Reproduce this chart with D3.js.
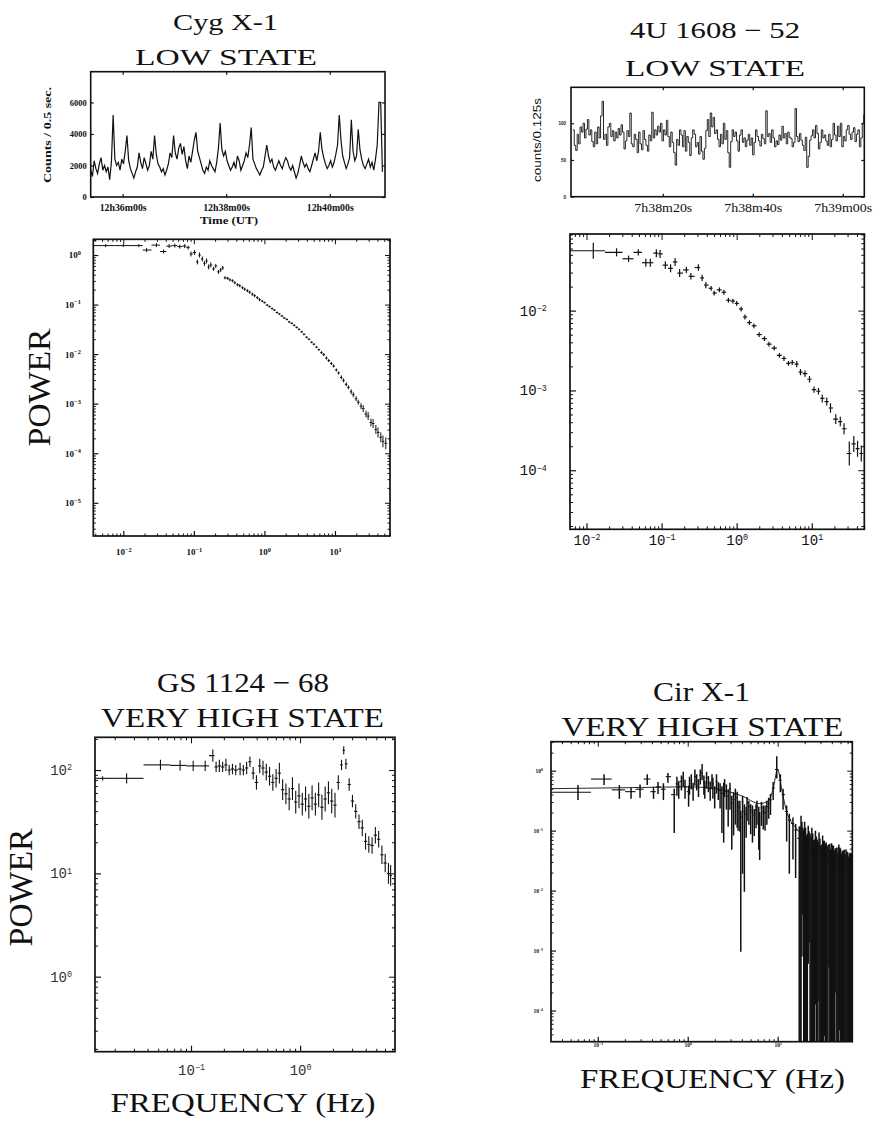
<!DOCTYPE html>
<html><head><meta charset="utf-8">
<script src="https://cdn.jsdelivr.net/npm/d3@7"></script>
<style>body{margin:0;background:#fff}</style>
</head><body>
<script>
// ================= DATA =================
const titleCyg = ["Cyg X-1", "LOW STATE"];
const title4U  = ["4U 1608 \u2212 52", "LOW STATE"];
const titleGS  = ["GS 1124 \u2212 68", "VERY HIGH STATE"];
const titleCir = ["Cir X-1", "VERY HIGH STATE"];
const powerLabel = "POWER";
const freqLabel = "FREQUENCY (Hz)";

// Cyg X-1 light curve (counts / 0.5 s), 2-s samples starting at 12h35m23s
const cygStart = "12h35m23s";
const cygStep = 2;
const cygCounts = [1700,1300,2300,1800,1500,2100,2500,1700,2000,1600,
 1900,1100,2200,5200,2400,2000,2200,1700,2400,2100,
 2900,3900,2300,1800,1500,1200,1600,1900,2800,2200,
 1800,2500,2100,1700,2000,2900,2400,3900,2700,2100,
 1900,1600,1800,1400,1700,2100,2800,2500,3900,2800,
 2400,3100,3400,2700,3200,2300,1800,2600,2200,2900,
 3600,4100,2900,2500,2100,1700,1500,1900,1700,2300,
 2000,1800,1600,2200,3100,4700,3000,2600,2900,2300,
 2000,1700,1900,2200,1800,2600,2300,1700,2000,2300,
 2800,2500,3300,4400,2400,2100,1800,1600,1400,1700,
 1900,2600,3300,2600,2200,2400,1900,1700,2000,2300,
 2000,1800,2200,2500,2300,1900,1700,2000,1600,1200,
 1500,2000,2600,2200,1900,2100,1800,1600,2000,2400,
 2800,2300,2900,4100,3000,2500,2100,1800,2000,2300,
 1900,2200,2700,3300,5200,3600,2600,2200,1800,2100,
 2500,4900,2900,2300,2600,4300,3000,2400,2000,1800,
 2100,2400,1900,2200,1700,2400,3300,6000,6000,1600];
const cygTimeTicks = ["12h36m00s", "12h38m00s", "12h40m00s"];
const cygCountTicks = [0, 2000, 4000, 6000];
const cygLcYLabel = "Counts / 0.5 sec.";
const cygLcXLabel = "Time (UT)";

// 4U 1608-52 light curve (counts / 0.125 s)
const u4Start = "7h38m00s";
const u4Step = 0.325;
const u4Counts = [91,70,63,85,72,95,88,100,80,92,
 105,84,91,75,68,88,72,95,80,110,
 130,78,85,70,95,100,82,90,76,88,
 80,93,84,98,88,65,76,90,82,114,
 72,68,85,78,60,88,72,64,90,78,
 70,62,84,76,115,80,91,84,96,88,
 100,76,91,84,104,82,68,88,74,60,
 43,78,70,91,84,68,90,62,82,74,
 56,80,91,85,68,74,58,82,62,51,
 66,90,105,82,114,95,108,86,91,78,
 68,85,72,100,78,90,60,40,75,91,
 82,88,76,62,84,91,74,80,68,77,
 85,70,80,57,74,91,82,76,69,85,
 79,72,117,82,86,74,91,80,68,76,
 71,84,77,96,80,86,72,88,81,79,
 68,74,120,82,75,86,77,70,63,81,
 40,55,77,83,91,80,97,86,65,74,
 91,80,84,76,70,85,68,78,100,84,
 76,96,82,100,68,82,76,91,97,85,
 78,88,94,75,85,91,68,80,100,112];
const u4TimeTicks = ["7h38m20s", "7h38m40s", "7h39m00s"];
const u4CountTicks = [0, 50, 100];
const u4LcYLabel = "counts/0.125s";

// Power spectra: log10 frequency (Hz), log10 power, error (dex)
const cygLogF = [-2.25,-2.0,-1.78,-1.67,-1.53,-1.43,-1.35,-1.27,-1.20,-1.13,
 -1.08,-1.04,-0.99,-0.95,-0.92,-0.88,-0.85,-0.82,-0.79,-0.76,
 -0.72,-0.69,-0.65,-0.62,-0.59,-0.56,-0.52,-0.49,-0.45,-0.42,
 -0.38,-0.35,-0.31,-0.28,-0.24,-0.21,-0.17,-0.14,-0.10,-0.07,
 -0.03,0.0,0.04,0.07,0.11,0.14,0.18,0.21,0.25,0.28,
 0.32,0.35,0.39,0.42,0.46,0.49,0.53,0.56,0.60,0.63,
 0.67,0.70,0.74,0.77,0.81,0.84,0.88,0.91,0.95,0.98,
 1.02,1.05,1.09,1.12,1.16,1.19,1.23,1.26,1.30,1.33,
 1.37,1.40,1.44,1.47,1.51,1.54,1.58,1.61,1.65,1.68,
 1.72];
const cygLogP = [0.19,0.19,0.19,0.10,0.20,0.07,0.18,0.19,0.17,0.18,
 0.15,0.02,0.05,-0.14,0.0,-0.08,-0.17,-0.12,-0.24,-0.20,
 -0.28,-0.22,-0.34,-0.30,-0.26,-0.46,-0.47,-0.50,-0.52,-0.56,
 -0.60,-0.62,-0.66,-0.69,-0.72,-0.75,-0.79,-0.82,-0.86,-0.90,
 -0.93,-0.96,-1.01,-1.04,-1.08,-1.11,-1.16,-1.19,-1.23,-1.27,
 -1.30,-1.35,-1.38,-1.42,-1.46,-1.50,-1.55,-1.60,-1.66,-1.70,
 -1.76,-1.80,-1.86,-1.91,-1.97,-2.01,-2.08,-2.13,-2.19,-2.24,
 -2.32,-2.38,-2.47,-2.53,-2.61,-2.67,-2.76,-2.82,-2.90,-2.97,
 -3.05,-3.10,-3.21,-3.25,-3.38,-3.40,-3.52,-3.58,-3.68,-3.76,
 -3.80];
const cygErr = [0.03,0.03,0.03,0.04,0.04,0.04,0.04,0.04,0.04,0.04,
 0.04,0.05,0.05,0.05,0.05,0.05,0.05,0.05,0.05,0.05,
 0.04,0.04,0.04,0.04,0.04,0.03,0.03,0.03,0.03,0.03,
 0.03,0.03,0.03,0.03,0.03,0.03,0.03,0.03,0.03,0.03,
 0.02,0.02,0.02,0.02,0.02,0.02,0.02,0.02,0.02,0.02,
 0.02,0.02,0.02,0.02,0.02,0.02,0.02,0.02,0.02,0.02,
 0.02,0.02,0.02,0.02,0.03,0.03,0.03,0.03,0.03,0.03,
 0.03,0.03,0.04,0.04,0.04,0.04,0.05,0.05,0.05,0.05,
 0.06,0.07,0.07,0.08,0.08,0.09,0.09,0.10,0.10,0.12,
 0.12];

const u4LogF = [-1.91,-1.60,-1.44,-1.31,-1.21,-1.15,-1.07,-1.02,-0.95,-0.88,
 -0.82,-0.76,-0.67,-0.61,-0.51,-0.46,-0.41,-0.34,-0.30,-0.23,
 -0.17,-0.11,-0.05,0.00,0.06,0.11,0.17,0.23,0.30,0.37,
 0.43,0.50,0.57,0.63,0.69,0.74,0.80,0.85,0.91,0.97,
 1.03,1.09,1.14,1.20,1.25,1.32,1.38,1.43,1.50,1.56,
 1.61,1.66];
const u4LogP = [-1.25,-1.27,-1.35,-1.27,-1.40,-1.40,-1.28,-1.29,-1.43,-1.47,
 -1.39,-1.53,-1.49,-1.57,-1.46,-1.59,-1.68,-1.72,-1.78,-1.74,
 -1.77,-1.87,-1.88,-1.91,-1.98,-2.08,-2.15,-2.19,-2.30,-2.35,
 -2.42,-2.47,-2.56,-2.60,-2.66,-2.65,-2.67,-2.77,-2.79,-2.86,
 -2.99,-3.01,-3.10,-3.14,-3.22,-3.36,-3.39,-3.48,-3.79,-3.67,
 -3.73,-3.79];
const u4Err = [0.10,0.05,0.04,0.04,0.05,0.05,0.05,0.05,0.05,0.05,
 0.05,0.05,0.04,0.04,0.04,0.04,0.04,0.03,0.03,0.03,
 0.03,0.03,0.03,0.03,0.03,0.03,0.03,0.03,0.03,0.03,
 0.03,0.03,0.03,0.03,0.03,0.03,0.04,0.04,0.04,0.04,
 0.04,0.04,0.05,0.05,0.06,0.06,0.06,0.07,0.15,0.10,
 0.10,0.10];

const gsLogF = [-1.81,-1.59,-1.28,-1.10,-0.98,-0.87,-0.80,-0.77,-0.74,-0.71,
 -0.68,-0.65,-0.62,-0.59,-0.55,-0.52,-0.49,-0.46,-0.43,-0.40,
 -0.37,-0.34,-0.31,-0.28,-0.25,-0.22,-0.19,-0.16,-0.13,-0.10,
 -0.07,-0.04,-0.01,0.02,0.05,0.08,0.11,0.14,0.17,0.20,
 0.23,0.26,0.29,0.32,0.35,0.38,0.40,0.42,0.45,0.48,
 0.51,0.54,0.57,0.60,0.63,0.66,0.69,0.72,0.75,0.78,
 0.81,0.83];
const gsLogP = [1.92,1.92,2.05,2.045,2.04,2.04,2.14,2.03,2.04,2.03,
 2.05,2.00,2.01,2.00,2.01,2.00,2.02,2.08,1.97,1.88,
 2.04,2.02,1.98,1.94,1.88,1.92,1.97,1.81,1.77,1.72,
 1.82,1.69,1.75,1.67,1.72,1.65,1.73,1.67,1.76,1.64,
 1.72,1.78,1.70,1.66,1.88,2.05,2.19,2.06,1.86,1.70,
 1.60,1.50,1.44,1.31,1.28,1.27,1.37,1.33,1.18,1.10,
 1.00,0.98];
const gsErr = [0.02,0.05,0.05,0.05,0.05,0.05,0.06,0.05,0.06,0.05,
 0.06,0.05,0.05,0.05,0.06,0.05,0.06,0.05,0.06,0.07,
 0.07,0.07,0.08,0.09,0.08,0.09,0.10,0.10,0.10,0.11,
 0.11,0.11,0.12,0.11,0.12,0.12,0.12,0.11,0.12,0.12,
 0.12,0.11,0.12,0.12,0.07,0.05,0.04,0.05,0.06,0.06,
 0.07,0.07,0.08,0.08,0.08,0.08,0.08,0.08,0.09,0.09,
 0.10,0.10];

const cirLogF = [-1.22,-0.93,-0.76,-0.63,-0.53,-0.45,-0.38,-0.33,-0.27,-0.22,
 -0.15,-0.10,-0.07,-0.03,0.01,0.04,0.08,0.12,0.16,0.19,
 0.23,0.27,0.30,0.34,0.38,0.41,0.45,0.49,0.53,0.56,
 0.59,0.63,0.66,0.70,0.74,0.77,0.80,0.84,0.88,0.92,
 0.95,0.99,1.03,1.06,1.10,1.13,1.17,1.20,
 1.24,1.26,1.28,1.30,1.32,1.34,1.36,1.38,1.40,1.42,
 1.44,1.46,1.48,1.50,1.52,1.54,1.56,1.58,1.60,1.62,
 1.64,1.66,1.68,1.70,1.72,1.74,1.76,1.78,1.80,1.82];
const cirLogP = [-0.36,-0.14,-0.32,-0.35,-0.31,-0.14,-0.35,-0.27,-0.31,-0.10,
 -0.40,-0.27,-0.18,-0.27,-0.35,-0.16,-0.10,-0.24,-0.04,-0.27,
 -0.21,-0.16,-0.38,-0.29,-0.38,-0.24,-0.43,-0.54,-0.40,-0.60,
 -0.77,-0.68,-0.54,-0.66,-0.74,-0.60,-0.79,-0.68,-0.60,-0.49,
 -0.29,0.02,-0.16,-0.40,-0.68,-0.82,-0.88,-0.99,
 -1.13,-1.05,-1.20,-1.15,-1.28,-1.22,-1.30,-1.25,-1.36,-1.30,
 -1.40,-1.33,-1.45,-1.38,-1.42,-1.50,-1.44,-1.52,-1.46,-1.55,
 -1.50,-1.58,-1.48,-1.60,-1.54,-1.62,-1.56,-1.66,-1.58,-1.68];
const cirErrLo = [0.13,0.10,0.15,0.12,0.14,0.10,0.12,0.12,0.18,0.10,
 0.64,0.20,0.15,0.20,0.25,0.15,0.15,0.20,0.12,0.20,
 0.15,0.15,0.25,0.20,0.66,0.20,0.50,0.78,0.50,0.40,
 2.25,1.34,0.30,0.40,0.35,0.30,0.70,0.30,0.30,0.25,
 0.20,0.15,0.20,0.25,0.50,0.90,0.60,0.80,
 4,4,1.2,4,4,2.0,4,4,4,2.6,
 4,4,4,4,3.0,4,4,4,4,4,
 2.2,4,4,4,4,4,4,4,4,4];
const cirErrHi = [0.12,0.08,0.08,0.06,0.08,0.08,0.08,0.08,0.10,0.06,
 0.10,0.10,0.10,0.12,0.10,0.10,0.12,0.10,0.15,0.10,
 0.12,0.10,0.12,0.10,0.12,0.10,0.12,0.12,0.10,0.10,
 0.10,0.12,0.10,0.10,0.10,0.10,0.10,0.10,0.10,0.10,
 0.10,0.22,0.10,0.10,0.10,0.10,0.10,0.10,
 0.20,0.30,0.25,0.30,0.20,0.30,0.25,0.30,0.20,0.30,
 0.25,0.30,0.20,0.30,0.25,0.30,0.20,0.30,0.25,0.30,
 0.20,0.30,0.25,0.30,0.20,0.30,0.25,0.30,0.20,0.30];
// additional, interleaved Cir X-1 frequency bins
const cirExtraLogF = [-0.12,-0.05,0.02,0.06,0.10,0.14,0.18,0.21,0.25,0.28,
 0.32,0.36,0.40,0.43,0.47,0.51,0.55,0.58,0.61,0.65,
 0.68,0.72,0.76,0.79,0.82,0.86,0.90,
 1.25,1.27,1.29,1.31,1.33,1.35,1.37,1.39,1.41,1.43,
 1.45,1.47,1.49,1.51,1.53,1.55,1.57,1.59,1.61,1.63,
 1.65,1.67,1.69,1.71,1.73,1.75,1.77,1.79,1.81];
const cirExtraLogP = [-0.22,-0.12,-0.22,-0.30,-0.18,-0.08,-0.20,-0.12,-0.30,-0.22,
 -0.18,-0.33,-0.30,-0.35,-0.30,-0.48,-0.45,-0.62,-0.52,-0.72,
 -0.60,-0.70,-0.66,-0.72,-0.62,-0.70,-0.55,
 -1.18,-1.10,-1.24,-1.20,-1.30,-1.26,-1.35,-1.30,-1.40,-1.35,
 -1.44,-1.38,-1.48,-1.42,-1.47,-1.52,-1.48,-1.56,-1.50,-1.58,
 -1.54,-1.61,-1.53,-1.63,-1.58,-1.65,-1.60,-1.68,-1.62];
const cirExtraErrLo = [0.20,0.15,0.18,0.20,0.15,0.15,0.20,0.18,0.20,0.25,
 0.20,0.30,0.90,0.30,0.35,0.60,0.50,0.40,1.20,0.40,
 0.30,0.50,0.30,0.60,0.30,0.30,0.25,
 4,2.0,4,4,4,1.6,4,4,4,4,
 2.4,4,4,4,4,4,1.8,4,4,4,
 4,4,2.8,4,4,4,4,4,4];
const cirExtraErrHi = [0.12,0.10,0.12,0.10,0.12,0.10,0.12,0.10,0.12,0.10,
 0.12,0.12,0.10,0.12,0.10,0.12,0.10,0.12,0.10,0.12,
 0.10,0.12,0.10,0.12,0.10,0.12,0.10,
 0.25,0.25,0.25,0.25,0.25,0.25,0.25,0.25,0.25,0.25,
 0.25,0.25,0.25,0.25,0.25,0.25,0.25,0.25,0.25,0.25,
 0.25,0.25,0.25,0.25,0.25,0.25,0.25,0.25,0.25];
// Cir X-1 model curve
const cirModelLogF = [-1.52,-1.0,-0.5,0.0,0.3,0.6,0.8,0.9,0.95,1.0,1.05,1.1,1.2,1.35,1.5,1.65,1.83];
const cirModelLogP = [-0.30,-0.29,-0.28,-0.27,-0.30,-0.42,-0.55,-0.50,-0.30,0.02,-0.35,-0.68,-0.95,-1.15,-1.30,-1.42,-1.55];

// ================= RENDERING =================
const SERIF = "'Liberation Serif','DejaVu Serif',serif";
const MONO = "'Liberation Mono','DejaVu Sans Mono',monospace";
const SANS = "'Liberation Sans','DejaVu Sans',sans-serif";
const INK = "#111";

const svg = d3.select("body").append("svg").attr("width", 880).attr("height", 1123)
  .style("display","block");
svg.append("rect").attr("width",880).attr("height",1123).attr("fill","#fff");

function hms(s) { const m = s.match(/(\d+)h(\d+)m(\d+)s/); return (+m[1])*3600 + (+m[2])*60 + (+m[3]); }

function label(str, x, y, size, width, opts = {}) {
  const t = svg.append("text").attr("x", x).attr("y", y)
    .attr("text-anchor", opts.anchor || "middle")
    .attr("font-family", opts.family || SERIF)
    .attr("font-size", size)
    .attr("font-weight", opts.weight || "normal")
    .attr("fill", INK).text(str);
  if (width) t.attr("textLength", width).attr("lengthAdjust", "spacingAndGlyphs");
  if (opts.rotate) t.attr("transform", `rotate(-90,${x},${y})`);
  return t;
}

function styleAxis(g, lw) {
  g.select(".domain").remove();
  g.selectAll(".tick line").attr("stroke", INK).attr("stroke-width", lw);
}

function supLabels(g, supScale) {
  g.selectAll(".tick text").each(function(d) {
    const e = Math.round(Math.log10(d));
    const t = d3.select(this);
    t.text(null);
    t.append("tspan").text("10");
    t.append("tspan").attr("dy", "-0.55em").attr("font-size", (supScale * 100) + "%")
      .text(e < 0 ? "\u2212" + (-e) : String(e));
  });
}

function drawLightCurve(o) {
  const x = d3.scaleLinear().domain(o.xDom).range([o.x0, o.x1]);
  const y = d3.scaleLinear().domain(o.yDom).range([o.y1, o.y0]);
  const t0 = hms(o.start);
  const pts = o.values.map((v, i) => [t0 + i * o.step, v]);
  svg.append("path").datum(pts)
    .attr("d", d3.line().x(d => x(d[0])).y(d => y(d[1])).curve(o.curve))
    .attr("fill", "none").attr("stroke", INK).attr("stroke-width", o.lw);
  svg.append("rect").attr("x", o.x0).attr("y", o.y0).attr("width", o.x1 - o.x0).attr("height", o.y1 - o.y0)
    .attr("fill", "none").attr("stroke", INK).attr("stroke-width", 1.6);
  const xt = o.xTicks.map(hms);
  const gb = svg.append("g").attr("transform", `translate(0,${o.y1})`)
    .call(d3.axisBottom(x).tickValues(xt).tickSize(-o.tick).tickFormat((d, i) => o.xTicks[i]));
  styleAxis(gb, 1.2);
  gb.selectAll(".tick text").attr("dy", null).attr("y", o.xLabOff)
    .attr("font-family", SERIF).attr("font-size", o.xLabSize).attr("font-weight", o.xLabWeight)
    .attr("fill", INK).attr("textLength", o.xLabW).attr("lengthAdjust", "spacingAndGlyphs");
  const gt = svg.append("g").attr("transform", `translate(0,${o.y0})`)
    .call(d3.axisTop(x).tickValues(xt).tickSize(-o.tick).tickFormat(""));
  styleAxis(gt, 1.2);
  const gl = svg.append("g").attr("transform", `translate(${o.x0},0)`)
    .call(d3.axisLeft(y).tickValues(o.yTicks).tickSize(-o.tick).tickPadding(o.yPad).tickFormat(d3.format("d")));
  styleAxis(gl, 1.2);
  gl.selectAll(".tick text").attr("font-family", o.yLabFamily).attr("font-size", o.yLabSize)
    .attr("font-weight", o.yLabWeight).attr("fill", INK);
  const gr = svg.append("g").attr("transform", `translate(${o.x1},0)`)
    .call(d3.axisRight(y).tickValues(o.yTicks).tickSize(-o.tick).tickFormat(""));
  styleAxis(gr, 1.2);
}

let clipN = 0;
function drawPsd(o) {
  const x = d3.scaleLog().domain(o.xDom).range([o.x0, o.x1]);
  const y = d3.scaleLog().domain(o.yDom).range([o.y1, o.y0]);
  const id = "clip" + (clipN++);
  svg.append("clipPath").attr("id", id).append("rect")
    .attr("x", o.x0).attr("y", o.y0).attr("width", o.x1 - o.x0).attr("height", o.y1 - o.y0);
  const g = svg.append("g").attr("clip-path", `url(#${id})`);
  let rows = [];
  (o.sets || [o]).forEach(s => {
    const n = Math.min(s.lf.length, s.lp.length);
    for (let i = 0; i < n; i++) rows.push({ lf: s.lf[i], lp: s.lp[i], eLo: s.eLo[i] ?? 0.03, eHi: s.eHi[i] ?? 0.03 });
  });
  rows.sort((a, b) => a.lf - b.lf);
  const n = rows.length;
  const lxMin = Math.log10(o.xDom[0]);
  const pts = rows.map((r, i) => {
    const lo = i === 0 ? lxMin : (rows[i - 1].lf + r.lf) / 2;
    const hi = i === n - 1 ? r.lf + (r.lf - rows[i - 1].lf) / 2 : (r.lf + rows[i + 1].lf) / 2;
    return { f: 10 ** r.lf, p: 10 ** r.lp, flo: 10 ** lo, fhi: 10 ** hi, plo: 10 ** (r.lp - r.eLo), phi: 10 ** (r.lp + r.eHi) };
  });
  if (o.model) {
    const mp = o.model[0].map((lf, i) => [10 ** lf, 10 ** o.model[1][i]]);
    g.append("path").datum(mp).attr("d", d3.line().x(d => x(d[0])).y(d => y(d[1])).curve(d3.curveMonotoneX))
      .attr("fill", "none").attr("stroke", INK).attr("stroke-width", 0.9);
  }
  g.selectAll("line.h").data(pts).join("line").attr("class", "h")
    .attr("x1", d => x(d.flo)).attr("x2", d => x(d.fhi)).attr("y1", d => y(d.p)).attr("y2", d => y(d.p))
    .attr("stroke", INK).attr("stroke-width", o.lw);
  g.selectAll("line.v").data(pts).join("line").attr("class", "v")
    .attr("x1", d => x(d.f)).attr("x2", d => x(d.f)).attr("y1", d => y(d.plo)).attr("y2", d => y(d.phi))
    .attr("stroke", INK).attr("stroke-width", o.lwv || o.lw);
  svg.append("rect").attr("x", o.x0).attr("y", o.y0).attr("width", o.x1 - o.x0).attr("height", o.y1 - o.y0)
    .attr("fill", "none").attr("stroke", INK).attr("stroke-width", 1.7);

  const decades = (dom) => { const a = []; for (let e = Math.ceil(Math.log10(dom[0]) - 1e-9); e <= Math.floor(Math.log10(dom[1]) + 1e-9); e++) a.push(10 ** e); return a; };
  const minors = (dom) => { const a = []; for (let e = Math.floor(Math.log10(dom[0])); e <= Math.ceil(Math.log10(dom[1])); e++) for (let k = 2; k <= 9; k++) { const v = k * 10 ** e; if (v > dom[0] && v < dom[1]) a.push(v); } return a; };
  const xMaj = decades(o.xDom), yMaj = decades(o.yDom), xMin = minors(o.xDom), yMin = minors(o.yDom);

  const gb = svg.append("g").attr("transform", `translate(0,${o.y1})`)
    .call(d3.axisBottom(x).tickValues(xMaj).tickSize(-o.tick));
  styleAxis(gb, 1.2);
  gb.selectAll(".tick text").attr("dy", null).attr("y", o.xLabOff).attr("font-family", o.labFamily)
    .attr("font-size", o.labSize).attr("font-weight", o.labWeight).attr("fill", o.labColor || INK);
  supLabels(gb, o.supScale);
  const gl = svg.append("g").attr("transform", `translate(${o.x0},0)`)
    .call(d3.axisLeft(y).tickValues(yMaj).tickSize(-o.tick).tickPadding(o.yPad));
  styleAxis(gl, 1.2);
  gl.selectAll(".tick text").attr("font-family", o.labFamily).attr("font-size", o.labSize)
    .attr("font-weight", o.labWeight).attr("fill", o.labColor || INK);
  supLabels(gl, o.supScale);
  [[d3.axisTop(x), xMaj, o.tick, `translate(0,${o.y0})`], [d3.axisRight(y), yMaj, o.tick, `translate(${o.x1},0)`],
   [d3.axisBottom(x), xMin, o.minor, `translate(0,${o.y1})`], [d3.axisTop(x), xMin, o.minor, `translate(0,${o.y0})`],
   [d3.axisLeft(y), yMin, o.minor, `translate(${o.x0},0)`], [d3.axisRight(y), yMin, o.minor, `translate(${o.x1},0)`]]
    .forEach(([ax, vals, sz, tr]) => {
      const ga = svg.append("g").attr("transform", tr).call(ax.tickValues(vals).tickSize(-sz).tickFormat(""));
      styleAxis(ga, 1);
    });
}

// ---- Titles ----
label(titleCyg[0], 225.5, 29.5, 22.7, 105);
label(titleCyg[1], 226, 65, 22.7, 182);
label(title4U[0], 715, 37.5, 23.7, 170);
label(title4U[1], 715, 75.5, 23.7, 180);
label(titleGS[0], 243, 691.7, 27.6, 172);
label(titleGS[1], 242.5, 726.7, 27.6, 283);
label(titleCir[0], 701.5, 700.5, 27.6, 97);
label(titleCir[1], 702.5, 736, 27.6, 282);
label(freqLabel, 243, 1111.7, 27.6, 265);
label(freqLabel, 712.5, 1088.3, 27.6, 265);
label(powerLabel, 50, 387.5, 32, 118, { rotate: true });
label(powerLabel, 31.5, 887.5, 33, 118, { rotate: true });

// ---- Light curves ----
drawLightCurve({
  values: cygCounts, start: cygStart, step: cygStep, curve: d3.curveLinear,
  xDom: [hms(cygStart), hms(cygStart) + 341], yDom: [0, 7950],
  x0: 90.7, x1: 385, y0: 71.7, y1: 197, lw: 1.2, tick: 3,
  xTicks: cygTimeTicks, yTicks: cygCountTicks,
  xLabOff: 13.7, xLabSize: 10, xLabWeight: "bold", xLabW: 47,
  yPad: 4, yLabFamily: SERIF, yLabSize: 8.5, yLabWeight: "bold"
});
label(cygLcXLabel, 229, 224, 11, 58, { weight: "bold" });
label(cygLcYLabel, 50.5, 135, 11, 96, { rotate: true, weight: "bold" });

drawLightCurve({
  values: u4Counts, start: u4Start, step: u4Step, curve: d3.curveStepAfter,
  xDom: [hms(u4Start) - 0.4, hms(u4Start) + 64.8], yDom: [0, 149],
  x0: 571, x1: 864.3, y0: 87.3, y1: 196.7, lw: 0.9, tick: 3,
  xTicks: u4TimeTicks, yTicks: u4CountTicks,
  xLabOff: 15, xLabSize: 12.5, xLabWeight: "normal", xLabW: 58,
  yPad: 5, yLabFamily: SANS, yLabSize: 4.5, yLabWeight: "bold"
});
label(u4LcYLabel, 540.5, 140, 10.5, 84, { rotate: true, family: SANS });

// ---- Power spectra ----
drawPsd({
  lf: cygLogF, lp: cygLogP, eLo: cygErr, eHi: cygErr,
  xDom: [10 ** -2.425, 10 ** 1.78], yDom: [10 ** -5.67, 10 ** 0.317],
  x0: 93.3, x1: 390, y0: 239.3, y1: 536, lw: 1, tick: 5, minor: 2.5,
  xLabOff: 19, yPad: 12.5, labFamily: SERIF, labSize: 9, labWeight: "bold", supScale: 0.7
});
drawPsd({
  lf: u4LogF, lp: u4LogP, eLo: u4Err, eHi: u4Err,
  xDom: [10 ** -2.22, 10 ** 1.70], yDom: [10 ** -4.74, 10 ** -1.04],
  x0: 570, x1: 864.3, y0: 234, y1: 529.3, lw: 1.2, tick: 6, minor: 3,
  xLabOff: 15.7, yPad: 23.3, labFamily: MONO, labSize: 14, labWeight: "normal", supScale: 0.6
});
drawPsd({
  lf: gsLogF, lp: gsLogP, eLo: gsErr, eHi: gsErr,
  xDom: [10 ** -1.88, 10 ** 0.87], yDom: [10 ** -0.726, 10 ** 2.317],
  x0: 95, x1: 395, y0: 737.3, y1: 1051.7, lw: 1.1, tick: 6, minor: 3,
  xLabOff: 23.3, yPad: 23, labFamily: MONO, labSize: 14, labWeight: "normal", labColor: "#333", supScale: 0.6
});
drawPsd({
  sets: [
    { lf: cirLogF, lp: cirLogP, eLo: cirErrLo, eHi: cirErrHi },
    { lf: cirExtraLogF, lp: cirExtraLogP, eLo: cirExtraErrLo, eHi: cirExtraErrHi }
  ],
  model: [cirModelLogF, cirModelLogP],
  xDom: [10 ** -1.52, 10 ** 1.83], yDom: [10 ** -4.52, 10 ** 0.483],
  x0: 551, x1: 852.3, y0: 741.7, y1: 1041.7, lw: 1.1, lwv: 1.5, tick: 5, minor: 2.5,
  xLabOff: 5.5, yPad: 8, labFamily: SERIF, labSize: 5.5, labWeight: "bold", supScale: 0.7
});
</script>
</body></html>
